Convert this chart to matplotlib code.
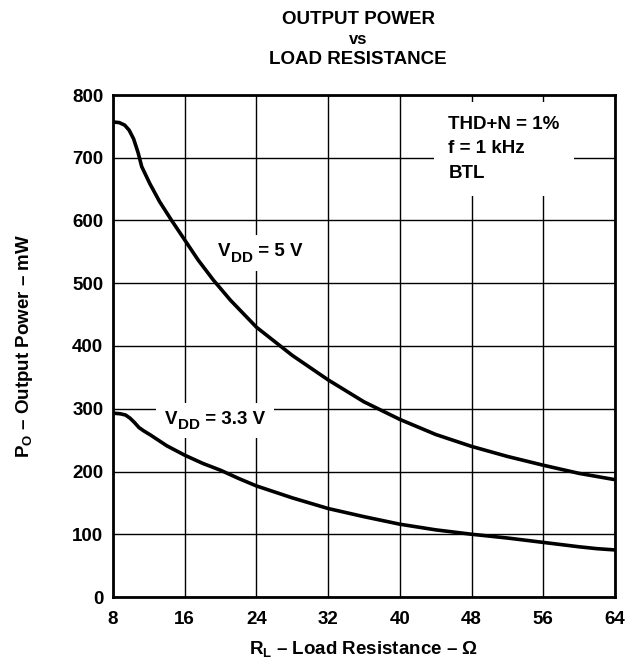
import numpy as np
import matplotlib
matplotlib.use("Agg")
import matplotlib.pyplot as plt
from matplotlib.patches import Rectangle
from matplotlib.transforms import Bbox, IdentityTransform

plt.rcParams["font.family"] = ["Liberation Sans", "DejaVu Sans"]
plt.rcParams["font.weight"] = "bold"
plt.rcParams["mathtext.fontset"] = "custom"
plt.rcParams["mathtext.rm"] = "Liberation Sans:bold"
plt.rcParams["mathtext.it"] = "Liberation Sans:bold"
plt.rcParams["mathtext.bf"] = "Liberation Sans:bold"

# load resistance (ohm) and output power (mW)
r_5v = [8, 8.7, 9.3, 9.8, 10.3, 10.8, 11.2, 12.1, 13.2, 14.5, 16, 17.5, 19.2, 21.1, 24, 28, 32, 36, 40, 44, 48, 52, 56, 60, 64]
p_5v = [757, 756, 752, 744, 730, 708, 686, 659, 630, 601, 569, 537, 505, 473, 430, 385, 346, 311, 283, 259, 240, 224, 210, 197, 187]

r_33v = [8, 8.8, 9.4, 9.9, 10.4, 10.9, 11.4, 12.2, 14, 16, 18, 20, 22, 24, 28, 32, 36, 40, 44, 48, 52, 56, 60, 62, 64]
p_33v = [293, 292, 290, 285, 278, 270, 265, 258, 241, 226, 213, 202, 189, 177, 158, 141, 128, 116, 107, 100, 94, 87, 80, 77, 75]

x_ticks = [8, 16, 24, 32, 40, 48, 56, 64]
y_ticks = [0, 100, 200, 300, 400, 500, 600, 700, 800]

fig = plt.figure(figsize=(6.33, 6.63), dpi=100)
ax = fig.add_axes([113 / 633, 1 - 597 / 663, 502 / 633, 502 / 663])

ax.plot(r_5v, p_5v, color="black", lw=2.6, solid_capstyle="butt", zorder=3)
ax.plot(r_33v, p_33v, color="black", lw=2.6, solid_capstyle="butt", zorder=3)

ax.set_xlim(8, 64)
ax.set_ylim(0, 800)
ax.set_xticks(x_ticks)
ax.set_yticks(y_ticks)
ax.grid(True, color="black", lw=1.0)
ax.set_axisbelow(True)
ax.tick_params(length=0, labelsize=13.5)
ax.tick_params(axis="x", pad=10)
ax.tick_params(axis="y", pad=7)
for lab in ax.get_xticklabels() + ax.get_yticklabels():
    lab.set_fontweight("bold")
for s in ax.spines.values():
    s.set_linewidth(2)

ax.set_xlabel("$R_L$ – Load Resistance – Ω", fontsize=13.5, fontweight="bold", labelpad=8)
ax.set_ylabel("$P_O$ – Output Power – mW", fontsize=13.5, fontweight="bold", labelpad=27)

ax.text(45.4, 714, "THD+N = 1%\nf = 1 kHz\nBTL", fontsize=13.5, fontweight="bold",
        va="center", ha="left", linespacing=1.6,
        bbox=dict(facecolor="white", edgecolor="none", pad=10), zorder=4)


def vdd_label(x, y, rest):
    # V with a large DD subscript, then the value
    t1 = ax.text(x, y, "V", fontsize=13.5, fontweight="bold", va="bottom", ha="left", zorder=5)
    t2 = ax.annotate("DD", xy=(1, 0), xycoords=t1, xytext=(0.3, -3.5),
                     textcoords="offset points", fontsize=11, fontweight="bold",
                     va="bottom", ha="left", zorder=5)
    t3 = ax.annotate(rest, xy=(1, 0), xycoords=t2, xytext=(0, 3.5),
                     textcoords="offset points", fontsize=13.5, fontweight="bold",
                     va="bottom", ha="left", zorder=5)
    return [t1, t2, t3]


labels = [vdd_label(19.7, 537, " = 5 V"), vdd_label(13.8, 270, " = 3.3 V")]

# white patch behind each label so the grid is broken there (curves stay on top)
fig.canvas.draw()
renderer = fig.canvas.get_renderer()
for parts in labels:
    bb = Bbox.union([t.get_window_extent(renderer) for t in parts])
    p = 9
    ax.add_patch(Rectangle((bb.x0 - p, bb.y0 - p + 3), bb.width + 2 * p, bb.height + 2 * p - 4,
                           transform=IdentityTransform(), facecolor="white",
                           edgecolor="none", zorder=2.5, clip_on=False))

cx = 358 / 633
fig.text(cx, 1 - 19 / 663, "OUTPUT POWER", fontsize=13.5, fontweight="bold", ha="center", va="center")
fig.text(cx, 1 - 39 / 663, "vs", fontsize=12, fontweight="bold", ha="center", va="center")
fig.text(cx, 1 - 59 / 663, "LOAD RESISTANCE", fontsize=13.5, fontweight="bold", ha="center", va="center")

fig.savefig("out.png", dpi=100)
